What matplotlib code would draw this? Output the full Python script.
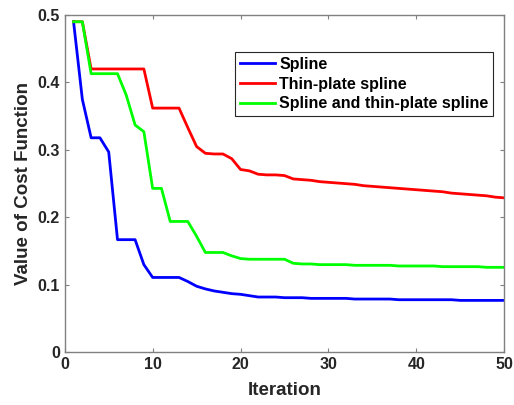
import matplotlib
matplotlib.use("Agg")
from matplotlib import pyplot as plt

iterations = list(range(1, 51))

spline = [0.490, 0.375, 0.318, 0.318, 0.297, 0.167, 0.167, 0.167, 0.130, 0.111,
          0.111, 0.111, 0.111, 0.105, 0.098, 0.094, 0.091, 0.089, 0.087, 0.086,
          0.084, 0.082, 0.082, 0.082, 0.081, 0.081, 0.081, 0.080, 0.080, 0.080,
          0.080, 0.080, 0.079, 0.079, 0.079, 0.079, 0.079, 0.078, 0.078, 0.078,
          0.078, 0.078, 0.078, 0.078, 0.077, 0.077, 0.077, 0.077, 0.077, 0.077]

thin_plate = [0.490, 0.490, 0.420, 0.420, 0.420, 0.420, 0.420, 0.420, 0.420, 0.362,
              0.362, 0.362, 0.362, 0.333, 0.305, 0.295, 0.294, 0.294, 0.287, 0.271,
              0.269, 0.264, 0.263, 0.263, 0.262, 0.257, 0.256, 0.255, 0.253, 0.252,
              0.251, 0.250, 0.249, 0.247, 0.246, 0.245, 0.244, 0.243, 0.242, 0.241,
              0.240, 0.239, 0.238, 0.236, 0.235, 0.234, 0.233, 0.232, 0.230, 0.229]

combined = [0.490, 0.490, 0.413, 0.413, 0.413, 0.413, 0.381, 0.337, 0.327, 0.243,
            0.243, 0.194, 0.194, 0.194, 0.172, 0.148, 0.148, 0.148, 0.143, 0.139,
            0.138, 0.138, 0.138, 0.138, 0.138, 0.132, 0.131, 0.131, 0.130, 0.130,
            0.130, 0.130, 0.129, 0.129, 0.129, 0.129, 0.129, 0.128, 0.128, 0.128,
            0.128, 0.128, 0.127, 0.127, 0.127, 0.127, 0.127, 0.126, 0.126, 0.126]

labels = ["Spline", "Thin-plate spline", "Spline and thin-plate spline"]

plt.rcParams['font.family'] = ['Liberation Sans', 'DejaVu Sans']
plt.rcParams['font.weight'] = 'bold'

fig = plt.figure(figsize=(5.14, 4.05), dpi=100)
ax = fig.add_axes([0.126, 0.130, 0.855, 0.833])

ax.plot(iterations, spline, color='#0000ff', lw=2, label=labels[0])
ax.plot(iterations, thin_plate, color='#ff0000', lw=2, label=labels[1])
ax.plot(iterations, combined, color='#00ff00', lw=2, label=labels[2])

ax.set_xlim(0, 50)
ax.set_ylim(0, 0.5)
ax.set_xticks([0, 10, 20, 30, 40, 50])
ax.set_yticks([0, 0.1, 0.2, 0.3, 0.4, 0.5])
ax.set_yticklabels(["0", "0.1", "0.2", "0.3", "0.4", "0.5"])
ax.tick_params(direction='in', top=True, right=True, length=3, width=0.8,
               colors='#808080', labelcolor='#262626', labelsize=11.5)
for s in ax.spines.values():
    s.set_color('#808080')
    s.set_linewidth(1)

ax.set_xlabel("Iteration", fontsize=13.5, fontweight='bold', color='#262626', labelpad=7)
ax.set_ylabel("Value of Cost Function", fontsize=13.5, fontweight='bold', color='#262626')

leg = ax.legend(loc='upper right', bbox_to_anchor=(0.975, 0.89), fontsize=11.5,
                fancybox=False, framealpha=1, edgecolor='#262626',
                handlelength=2.2, handletextpad=0.25, borderpad=0.3,
                labelspacing=0.3, borderaxespad=0)
leg.get_frame().set_linewidth(0.8)

fig.savefig("out.png", dpi=100)
